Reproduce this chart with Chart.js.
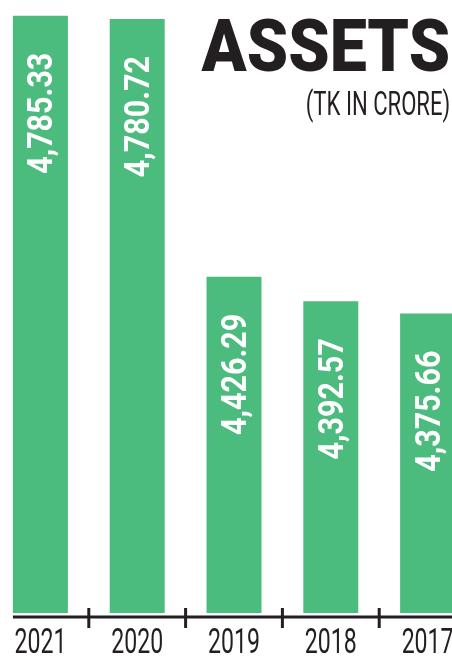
<!DOCTYPE html>
<html>
<head>
<meta charset="utf-8">
<script src="https://cdn.jsdelivr.net/npm/chart.js@4"></script>
<style>
    html, body { margin: 0; padding: 0; background: #fff; overflow: hidden; }
    body { width: 452px; height: 656px; position: relative; }
    #wrap { position: absolute; left: -8px; top: 0; width: 484px; height: 656px; }
    .title, .sub {
        position: absolute; right: 2px; color: #231f20; font-family: Roboto, sans-serif;
        white-space: nowrap; transform-origin: right top;
    }
    .title { top: 11px; font-size: 72px; line-height: 72px; font-weight: 900; transform: scaleX(0.92); }
    .sub { top: 86px; font-size: 34px; line-height: 34px; font-weight: 400; transform: scaleX(0.65); }
</style>
</head>
<body>
<div id="wrap"><canvas id="myChart"></canvas></div>
<div class="title">ASSETS</div>
<div class="sub">(TK IN CRORE)</div>
<script>
// Datos del gráfico
var years = ["2021", "2020", "2019", "2018", "2017"];
var assets = [4785.33, 4780.72, 4426.29, 4392.57, 4375.66];

var green = "#4bbb7e";
var ink = "#231f20";

function fmt(v) {
    return v.toLocaleString("en-US", { minimumFractionDigits: 2, maximumFractionDigits: 2 });
}

// Dibuja eje, marcas, años y valores
var labelsPlugin = {
    id: "labelsPlugin",
    afterDatasetsDraw: function(chart) {
        var ctx = chart.ctx;
        var area = chart.chartArea;
        var xs = chart.scales.x;
        var bars = chart.getDatasetMeta(0).data;

        ctx.save();
        // línea del eje
        var axisY = area.bottom + 4;
        ctx.strokeStyle = ink;
        ctx.lineWidth = 3;
        ctx.beginPath();
        ctx.moveTo(bars[0].x - bars[0].width / 2, axisY);
        ctx.lineTo(chart.width, axisY);
        ctx.stroke();

        // marcas entre categorías
        for (var i = 0; i < years.length - 1; i++) {
            var mx = (xs.getPixelForValue(i) + xs.getPixelForValue(i + 1)) / 2;
            ctx.beginPath();
            ctx.moveTo(mx, axisY - 9);
            ctx.lineTo(mx, axisY + 11);
            ctx.stroke();
        }

        // años
        ctx.fillStyle = ink;
        ctx.font = "400 35px Roboto";
        ctx.textAlign = "center";
        ctx.textBaseline = "alphabetic";
        bars.forEach(function(bar, i) {
            ctx.save();
            ctx.translate(bar.x, area.bottom + 40);
            ctx.scale(0.66, 1);
            ctx.fillText(years[i], 0, 0);
            ctx.restore();
        });

        // valores rotados dentro de las barras
        ctx.fillStyle = "#ffffff";
        ctx.font = "700 35px Roboto";
        ctx.textAlign = "right";
        bars.forEach(function(bar, i) {
            ctx.save();
            ctx.translate(bar.x, bar.y + 37);
            ctx.rotate(-Math.PI / 2);
            ctx.scale(0.87, 1);
            ctx.fillText(fmt(assets[i]), 0, 12);
            ctx.restore();
        });
        ctx.restore();
    }
};

var ctx = document.getElementById("myChart").getContext("2d");
var myChart = new Chart(ctx, {
    type: "bar",
    data: {
        labels: years,
        datasets: [{
            data: assets,
            backgroundColor: green,
            borderWidth: 0,
            categoryPercentage: 1,
            barPercentage: 0.568
        }]
    },
    options: {
        responsive: true,
        maintainAspectRatio: false,
        animation: false,
        layout: { padding: { top: 5, bottom: 43, left: 0, right: 0 } },
        scales: {
            x: { display: false },
            y: { display: false, min: 3964, max: 4800 }
        },
        plugins: {
            legend: { display: false },
            tooltip: { enabled: false }
        }
    },
    plugins: [labelsPlugin]
});
</script>
</body>
</html>
